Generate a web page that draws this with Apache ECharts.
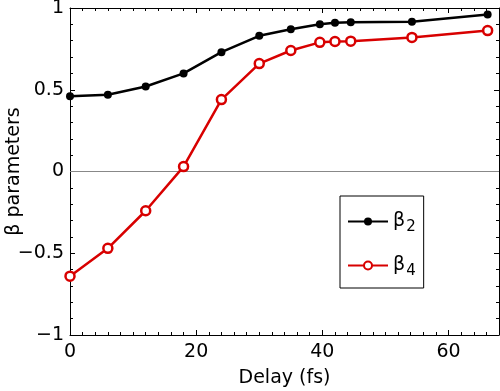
<!DOCTYPE html>
<html><head><meta charset="utf-8">
<script src="https://cdn.jsdelivr.net/npm/echarts@6/dist/echarts.min.js"></script>
<style>html,body{margin:0;padding:0;background:#fff}#c{width:500px;height:391px}</style>
</head><body><div id="c"></div>
<script>
const delays = [0, 6, 12, 18, 24, 30, 35, 39.6, 42, 44.5, 54.2, 66.2];
const beta2 = [0.46, 0.47, 0.52, 0.60, 0.73, 0.83, 0.87, 0.90, 0.91, 0.913, 0.916, 0.96];
const beta4 = [-0.64, -0.47, -0.24, 0.03, 0.44, 0.66, 0.74, 0.79, 0.795, 0.797, 0.82, 0.862];
const xTicks = [0, 20, 40, 60];
const yTicks = [-1, -0.5, 0, 0.5, 1];

const FONT = 'DejaVu Sans, Liberation Sans, Arial, sans-serif';
const RED = '#d80000';
const pairs = (xs, ys) => xs.map((x, i) => [x, ys[i]]);
const fmtY = v => yTicks.includes(v) ? String(v).replace('-', '\u2212') : '';
const fmtX = v => xTicks.includes(v) ? String(v) : '';

const chart = echarts.init(document.getElementById('c'), null, {renderer: 'canvas'});
const baseX = {
  type: 'value', min: 0, max: 68, interval: 20,
  axisLine: {show: true, onZero: false, lineStyle: {color: '#000', width: 1}},
  axisTick: {show: true, inside: true, length: 5, lineStyle: {color: '#000'}},
  minorTick: {show: true, splitNumber: 10, length: 3, lineStyle: {color: '#000'}},
  splitLine: {show: false}
};
const baseY = {
  type: 'value', min: -1, max: 1, interval: 0.5,
  axisLine: {show: true, onZero: false, lineStyle: {color: '#000', width: 1}},
  axisTick: {show: true, inside: true, length: 5, lineStyle: {color: '#000'}},
  minorTick: {show: true, splitNumber: 5, length: 3, lineStyle: {color: '#000'}},
  splitLine: {show: false}
};
chart.setOption({
  animation: false,
  backgroundColor: '#fff',
  textStyle: {fontFamily: FONT},
  grid: {left: 70, right: 1, top: 8, bottom: 56, containLabel: false, outerBoundsMode: 'none'},
  xAxis: [
    Object.assign({}, baseX, {
      position: 'bottom',
      name: 'Delay (fs)', nameLocation: 'middle', nameGap: 34, nameMoveOverlap: false,
      nameTextStyle: {fontSize: 19, color: '#000', fontFamily: FONT},
      axisLabel: {show: true, margin: 8, fontSize: 19, color: '#000', fontFamily: FONT, formatter: fmtX, showMaxLabel: false}
    }),
    Object.assign({}, baseX, {position: 'top', axisLabel: {show: false}})
  ],
  yAxis: [
    Object.assign({}, baseY, {
      position: 'left',
      name: '\u03b2 parameters', nameLocation: 'middle', nameGap: 46, nameMoveOverlap: false,
      nameTextStyle: {fontSize: 19, color: '#000', fontFamily: FONT},
      axisLabel: {show: true, margin: 6, fontSize: 19, color: '#000', fontFamily: FONT, formatter: fmtY}
    }),
    Object.assign({}, baseY, {position: 'right', axisLabel: {show: false}})
  ],
  legend: {
    orient: 'vertical', left: 340, top: 196,
    padding: [12, 8, 9, 7], itemGap: 17,
    itemWidth: 40, itemHeight: 10,
    backgroundColor: '#fff', borderColor: '#000', borderWidth: 1, borderRadius: 0,
    data: ['b2', 'b4'],
    formatter: n => n === 'b2' ? '{b|\u03b2}{s|2}' : '{b|\u03b2}{s|4}',
    textStyle: {
      color: '#000', fontFamily: FONT,
      rich: {
        b: {fontSize: 19, color: '#000', fontFamily: FONT, lineHeight: 22},
        s: {fontSize: 15, color: '#000', fontFamily: FONT, lineHeight: 22, padding: [12, 0, 0, 1]}
      }
    }
  },
  series: [
    {
      name: 'b2', type: 'line', data: pairs(delays, beta2), clip: false,
      symbol: 'circle', symbolSize: 8,
      lineStyle: {color: '#000', width: 2.5},
      itemStyle: {color: '#000'},
      markLine: {
        silent: true, symbol: ['none', 'none'], label: {show: false},
        lineStyle: {color: '#888', width: 1, type: 'solid'},
        data: [{yAxis: 0}], z: 1
      },
      z: 3
    },
    {
      name: 'b4', type: 'line', data: pairs(delays, beta4), clip: false,
      symbol: 'circle', symbolSize: 9,
      lineStyle: {color: RED, width: 2.5},
      itemStyle: {color: '#fff', borderColor: RED, borderWidth: 2.5},
      z: 4
    }
  ]
});
</script>
</body></html>
